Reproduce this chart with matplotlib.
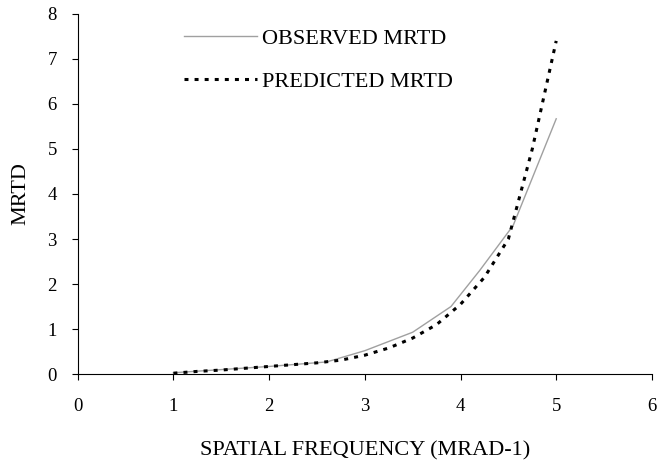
import matplotlib.pyplot as plt

plt.rcParams['font.family'] = 'Liberation Serif'

obs_x = [1.0, 1.5, 2.0, 2.6, 3.0, 3.5, 3.9, 4.2, 4.55, 5.0]
obs_y = [0.03, 0.1, 0.17, 0.27, 0.52, 0.93, 1.5, 2.3, 3.3, 5.67]

pred_x = [1.0, 1.25, 1.5, 1.75, 2.0, 2.25, 2.5, 2.75, 3.0, 3.25, 3.5, 3.75, 4.0, 4.25, 4.5, 4.75, 5.0]
pred_y = [0.02, 0.06, 0.09, 0.13, 0.17, 0.21, 0.25, 0.31, 0.42, 0.58, 0.8, 1.1, 1.55, 2.15, 3.0, 5.0, 7.4]

fig = plt.figure(figsize=(6.7, 4.63), dpi=100)
ax = fig.add_axes([0.116, 0.192, 0.857, 0.778])

ax.plot(obs_x, obs_y, color='#a0a0a0', lw=1.0, label='OBSERVED MRTD')
ax.plot(pred_x, pred_y, color='black', lw=2.2, linestyle=(0, (1.3, 2.0)), label='PREDICTED MRTD')

ax.set_xlim(0, 6)
ax.set_ylim(0, 8)
ax.set_xticks(range(0, 7))
ax.set_yticks(range(0, 9))
ax.spines['top'].set_visible(False)
ax.spines['right'].set_visible(False)
ax.tick_params(direction='out', length=4, labelsize=13.5, color='black')
ax.tick_params(axis='x', pad=13)
ax.tick_params(axis='y', pad=11)
ax.set_xlabel('SPATIAL FREQUENCY (MRAD-1)', fontsize=16, labelpad=19)
ax.set_ylabel('MRTD', fontsize=16, labelpad=12)

ax.legend(loc='upper left', bbox_to_anchor=(0.15, 1.015), frameon=False, fontsize=16,
          handlelength=3.3, handletextpad=0.22, labelspacing=1.0)

fig.savefig('out.png')
